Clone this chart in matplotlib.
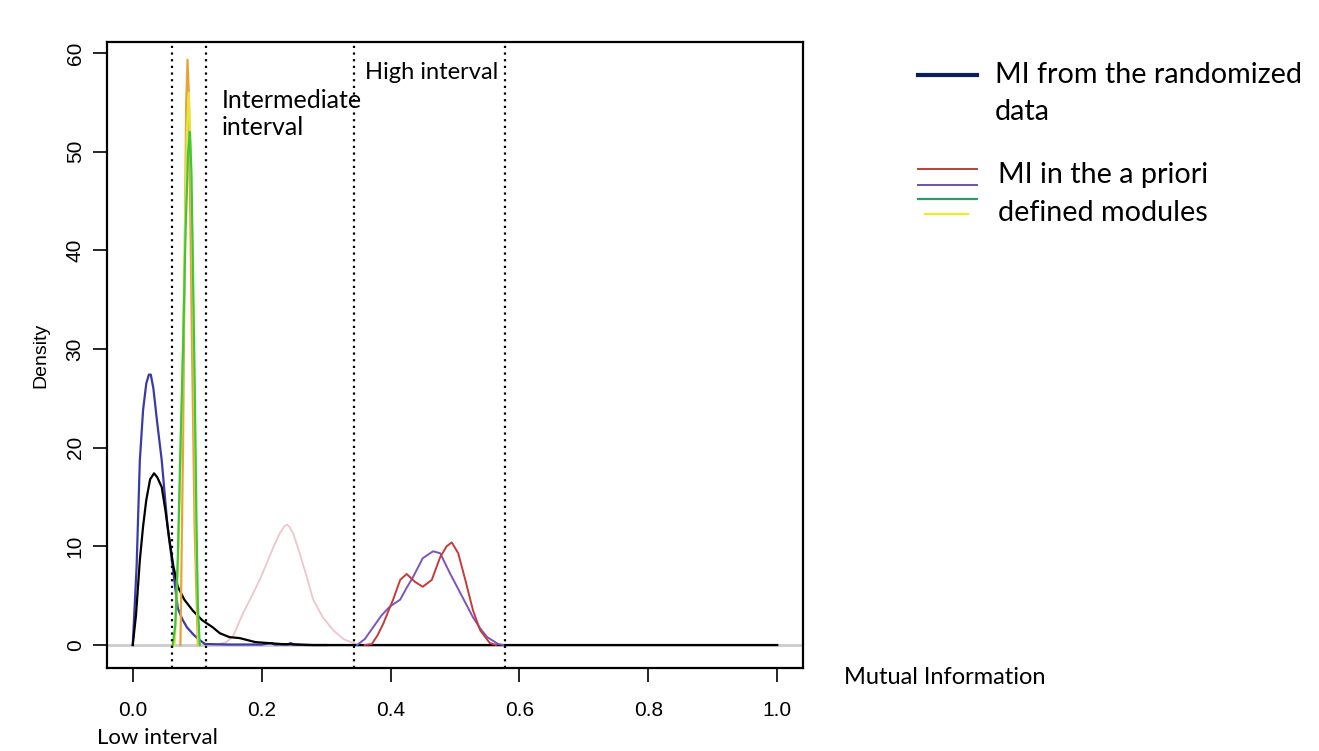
import numpy as np
import matplotlib
matplotlib.use("Agg")
import matplotlib.pyplot as plt
from matplotlib.lines import Line2D

# -------------------- Data --------------------
blue_x = [0.0, 0.006, 0.011, 0.016, 0.021, 0.025, 0.028, 0.032, 0.038, 0.045, 0.054, 0.062,
          0.070, 0.077, 0.084, 0.095, 0.104, 0.112, 0.15, 0.2, 0.215, 0.22, 0.24, 0.245, 0.25, 0.27, 0.3]
blue_y = [0.0, 8.0, 18.7, 23.8, 26.5, 27.4, 27.4, 26.0, 22.5, 18.7, 12.0, 7.9,
          3.7, 2.6, 1.8, 1.0, 0.5, 0.1, 0.05, 0.05, 0.2, 0.05, 0.05, 0.2, 0.05, 0.0, 0.0]

black_x = [0.0, 0.005, 0.011, 0.016, 0.021, 0.027, 0.033, 0.038, 0.045, 0.051, 0.057, 0.063,
           0.070, 0.080, 0.093, 0.108, 0.124, 0.135, 0.150, 0.166, 0.19, 0.23, 0.28, 1.0]
black_y = [0.0, 3.0, 8.6, 12.0, 14.7, 16.8, 17.4, 17.0, 16.0, 13.5, 10.6, 8.0,
           5.9, 4.6, 3.5, 2.5, 1.8, 1.2, 0.8, 0.7, 0.3, 0.1, 0.0, 0.0]

orange_x = [0.074, 0.078, 0.081, 0.083, 0.085, 0.087, 0.089, 0.092, 0.096, 0.101]
orange_y = [0.0, 20.0, 42.0, 55.0, 59.3, 56.0, 45.0, 30.0, 12.0, 0.0]

yellow_x = [0.065, 0.070, 0.075, 0.080, 0.084, 0.087, 0.090, 0.094, 0.098, 0.102]
yellow_y = [0.0, 8.0, 20.0, 38.0, 52.0, 56.0, 50.0, 33.0, 12.0, 0.0]

green_x = [0.062, 0.066, 0.070, 0.074, 0.078, 0.082, 0.086, 0.0885, 0.091, 0.093, 0.096, 0.099, 0.101, 0.104]
green_y = [0.0, 2.0, 9.0, 20.0, 30.0, 42.0, 50.0, 52.0, 48.0, 40.0, 27.0, 12.0, 4.0, 0.0]

pink_x = [0.13, 0.145, 0.155, 0.171, 0.185, 0.197, 0.208, 0.218, 0.228, 0.235, 0.239, 0.243, 0.249, 0.259,
          0.27, 0.28, 0.295, 0.311, 0.327, 0.342, 0.35]
pink_y = [0.0, 0.3, 0.8, 3.2, 5.0, 6.6, 8.3, 9.9, 11.3, 12.0, 12.2, 12.0, 11.3, 9.3,
          6.9, 4.6, 2.8, 1.5, 0.6, 0.2, 0.0]

red_x = [0.360, 0.371, 0.380, 0.389, 0.397, 0.404, 0.415, 0.425, 0.438, 0.450, 0.464, 0.477,
         0.487, 0.495, 0.505, 0.516, 0.528, 0.539, 0.554, 0.564]
red_y = [0.0, 0.1, 1.0, 2.2, 3.5, 4.6, 6.6, 7.2, 6.4, 5.9, 6.6, 8.9,
         10.0, 10.4, 9.3, 6.6, 3.5, 1.5, 0.2, 0.0]

purple_x = [0.348, 0.360, 0.373, 0.386, 0.399, 0.415, 0.425, 0.435, 0.450, 0.466, 0.477, 0.492,
            0.508, 0.528, 0.540, 0.550, 0.567, 0.575]
purple_y = [0.0, 0.6, 1.8, 3.0, 3.9, 4.6, 5.8, 6.9, 8.8, 9.5, 9.3, 7.3,
            5.3, 2.8, 1.6, 0.8, 0.1, 0.0]

cutoffs = [0.0606, 0.1134, 0.343, 0.578]

x_ticks = [0.0, 0.2, 0.4, 0.6, 0.8, 1.0]
y_ticks = [0, 10, 20, 30, 40, 50, 60]

plt.rcParams['font.family'] = ['Liberation Sans', 'DejaVu Sans']

# -------------------- Figure --------------------
fig = plt.figure(figsize=(13.19, 7.51), dpi=100)
ax = fig.add_axes([0.0811, 0.1105, 0.5277, 0.8335])

ax.axhline(0, color="#cccccc", lw=2, zorder=1)
ax.plot(blue_x, blue_y, color="#3a3aa8", lw=1.6, zorder=3)
ax.plot(black_x, black_y, color="black", lw=1.6, zorder=3)
ax.plot(pink_x, pink_y, color="#ecc6cb", lw=1.3, zorder=2)
ax.plot(purple_x, purple_y, color="#7a55c0", lw=1.4, zorder=3)
ax.plot(red_x, red_y, color="#c83a3a", lw=1.4, zorder=3)
ax.plot(orange_x, orange_y, color="#e8a23a", lw=1.6, zorder=3)
ax.plot(yellow_x, yellow_y, color="#e6e33a", lw=1.6, zorder=4)
ax.plot(green_x, green_y, color="#3cc83c", lw=1.6, zorder=4)

for c in cutoffs:
    ax.axvline(c, color="black", lw=1.6, linestyle=(0, (1, 2)), zorder=5)

ax.set_xlim(-0.04, 1.04)
ax.set_ylim(-2.33, 61.1)
ax.set_xticks(x_ticks)
ax.set_xticklabels([f"{t:.1f}" for t in x_ticks], fontsize=15)
ax.set_yticks(y_ticks)
ax.set_yticklabels([str(t) for t in y_ticks], rotation=90, va="center", fontsize=15)
ax.tick_params(direction="out", length=10, width=1.2)
ax.tick_params(axis="x", pad=14)
ax.tick_params(axis="y", pad=6)
for sp in ax.spines.values():
    sp.set_linewidth(1.6)
ax.set_ylabel("Density", fontsize=14, labelpad=12)

# -------------------- Annotations --------------------
tf = "Lato"
ax.text(0.138, 55.2, "Intermediate", fontsize=18, family=tf, va="center")
ax.text(0.138, 52.4, "interval", fontsize=18, family=tf, va="center")
ax.text(0.360, 58.0, "High interval", fontsize=17, family=tf, va="center")
fig.text(0.0735, 0.0173, "Low interval", fontsize=16, family=tf, va="center")
fig.text(0.640, 0.098, "Mutual Information", fontsize=17, family=tf, va="center")

# -------------------- Legend drawn by hand --------------------
fig.add_artist(Line2D([0.696, 0.741], [0.900, 0.900], color="#0a1f5c", lw=3))
fig.add_artist(Line2D([0.696, 0.741], [0.775, 0.775], color="#b8423a", lw=1.4))
fig.add_artist(Line2D([0.696, 0.741], [0.754, 0.754], color="#7050a8", lw=1.4))
fig.add_artist(Line2D([0.696, 0.741], [0.735, 0.735], color="#2a9d6a", lw=1.6))
fig.add_artist(Line2D([0.701, 0.734], [0.715, 0.715], color="#f0ea20", lw=1.6))

fig.text(0.754, 0.900, "MI from the randomized", fontsize=20.7, family=tf, va="center")
fig.text(0.754, 0.851, "data", fontsize=20.7, family=tf, va="center")
fig.text(0.757, 0.767, "MI in the a priori", fontsize=20.7, family=tf, va="center")
fig.text(0.757, 0.716, "defined modules", fontsize=20.7, family=tf, va="center")

fig.savefig("out.png", dpi=100)
